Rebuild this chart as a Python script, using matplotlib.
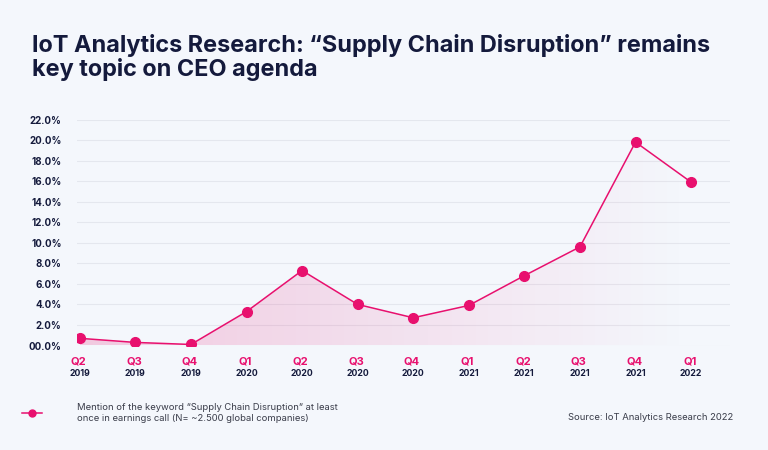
import matplotlib.pyplot as plt
import numpy as np
from matplotlib.patches import Polygon

# data
quarters = ["Q2", "Q3", "Q4", "Q1", "Q2", "Q3", "Q4", "Q1", "Q2", "Q3", "Q4", "Q1"]
years = ["2019", "2019", "2019", "2020", "2020", "2020", "2020", "2021", "2021", "2021", "2021", "2022"]
share = [0.7, 0.3, 0.1, 3.3, 7.3, 4.0, 2.7, 3.9, 6.8, 9.6, 19.8, 15.9]
yticks = [0, 2, 4, 6, 8, 10, 12, 14, 16, 18, 20, 22]

bg = "#f4f7fc"
pink = "#e8106e"
navy = "#141a3c"
plt.rcParams["font.family"] = ["Inter", "DejaVu Sans"]

fig = plt.figure(figsize=(7.68, 4.5), dpi=100, facecolor=bg)
ax = fig.add_axes([77 / 768, 1 - 345.5 / 450, (730 - 77) / 768, (345.5 - 119.5) / 450])
ax.set_facecolor(bg)

x = np.arange(len(share))
ax.set_xlim(-0.05, 11.7)
ax.set_ylim(0, 22)

# gradient fill under the line
verts = [(0, 0)] + list(zip(x, share)) + [(x[-1], 0)]
poly = Polygon(verts, closed=True, facecolor="none", edgecolor="none")
ax.add_patch(poly)
img = np.zeros((1, 256, 4))
img[..., 0] = 0.91
img[..., 1] = 0.06
img[..., 2] = 0.43
img[..., 3] = np.linspace(0.2, 0.0, 256)
im = ax.imshow(img, extent=[0, x[-1], 0, 22], aspect="auto", zorder=1)
im.set_clip_path(poly)

ax.plot(x, share, color=pink, lw=1.1, marker="o", markersize=7, zorder=3)

ax.set_yticks(yticks)
ax.set_yticklabels(["00.0%"] + [f"{v:.1f}%" for v in yticks[1:]],
                   fontsize=7, fontweight="bold", color=navy)
ax.grid(axis="y", color="#e4e7ee", lw=0.8)
ax.set_axisbelow(True)
ax.tick_params(axis="y", length=0, pad=11)
ax.set_xticks(x)
ax.set_xticklabels([])
ax.tick_params(axis="x", length=0)
for s in ax.spines.values():
    s.set_visible(False)

for i in range(len(x)):
    ax.annotate(quarters[i], (x[i], 0), xytext=(-1, -8), textcoords="offset points",
                ha="center", va="top", fontsize=8, fontweight="bold", color=pink)
    ax.annotate(years[i], (x[i], 0), xytext=(0, -17), textcoords="offset points",
                ha="center", va="top", fontsize=6.3, fontweight="bold", color=navy)

fig.text(32 / 768, 1 - 52 / 450, "IoT Analytics Research: “Supply Chain Disruption” remains",
         fontsize=16.9, fontweight="bold", color=navy, va="baseline")
fig.text(32 / 768, 1 - 76 / 450, "key topic on CEO agenda",
         fontsize=16.9, fontweight="bold", color=navy, va="baseline")

# legend
fig.add_artist(plt.Line2D([22 / 768, 42 / 768], [1 - 413 / 450] * 2, color=pink, lw=1.1,
                          transform=fig.transFigure))
fig.add_artist(plt.Line2D([32 / 768], [1 - 413 / 450], color=pink, marker="o",
                          markersize=5, transform=fig.transFigure))
fig.text(77 / 768, 1 - 413 / 450, "Mention of the keyword “Supply Chain Disruption” at least\nonce in earnings call (N= ~2.500 global companies)",
         fontsize=6.8, color="#3a3d4a", va="center", linespacing=1.35)
fig.text(733 / 768, 1 - 418 / 450, "Source: IoT Analytics Research 2022",
         fontsize=6.8, color="#3a3d4a", ha="right", va="center")

fig.savefig("out.png", dpi=100, facecolor=bg)
